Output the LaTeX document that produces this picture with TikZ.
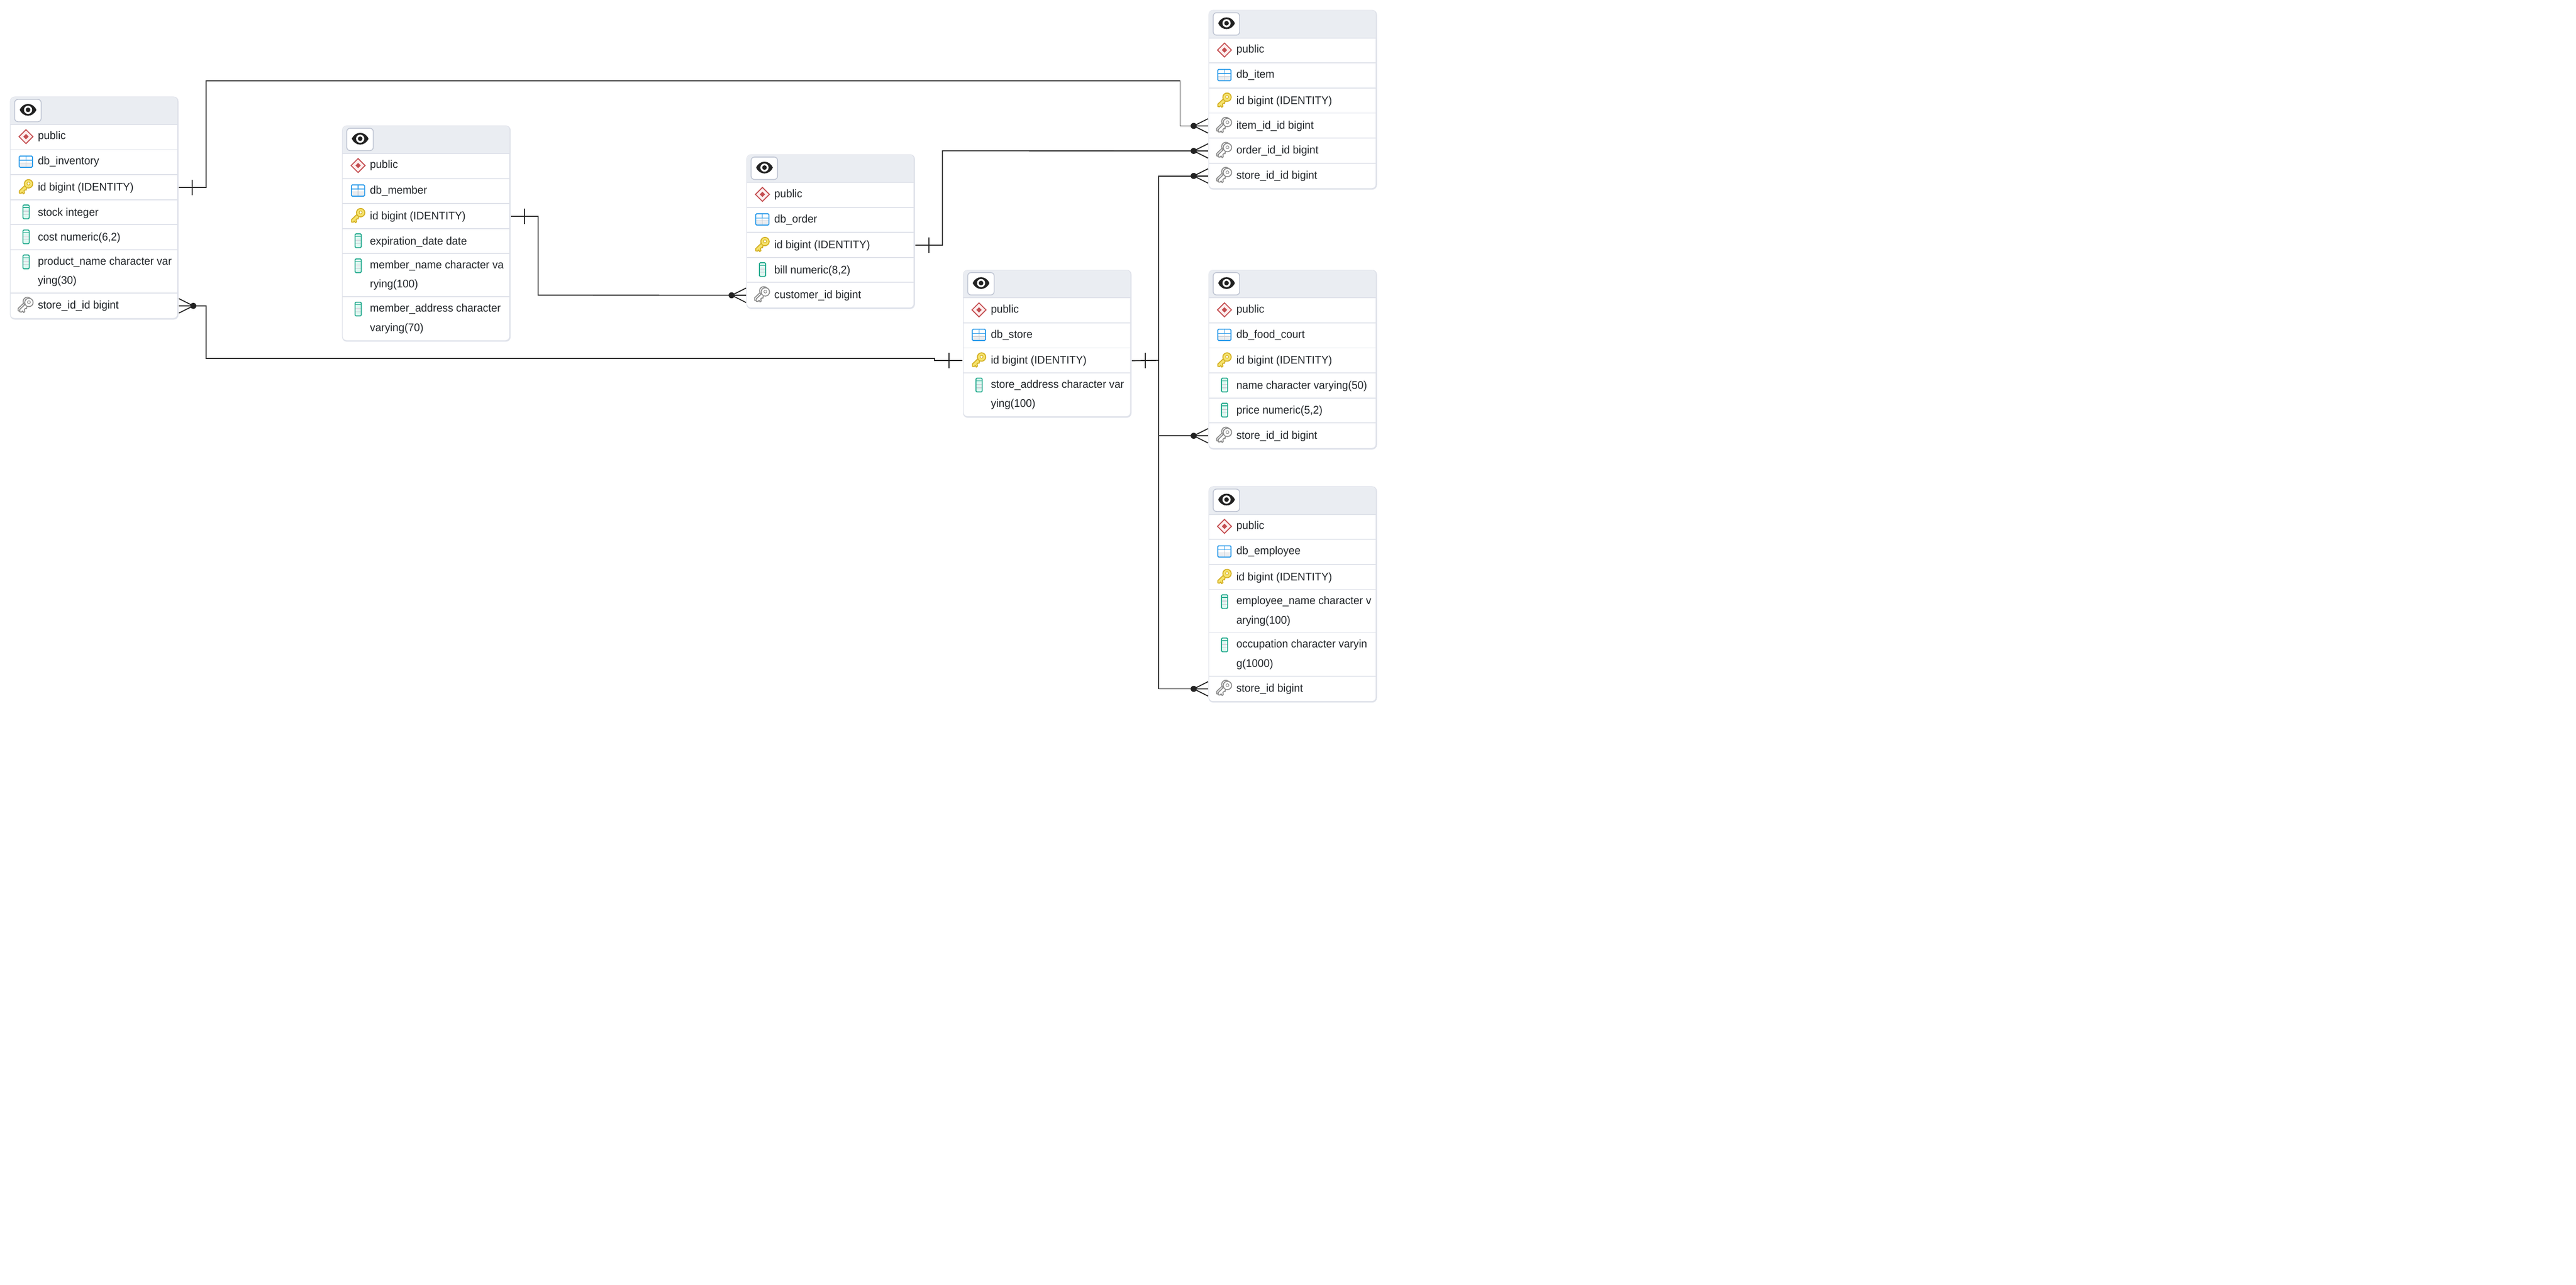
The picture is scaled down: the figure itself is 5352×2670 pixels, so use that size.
\documentclass[tikz,border=0pt]{standalone}
\usepackage{fontspec}
\setmainfont[FakeStretch=0.965]{Liberation Sans}
\usetikzlibrary{calc}
\definecolor{framec}{HTML}{DFE2EA}
\definecolor{hdrc}{HTML}{EAEDF2}
\definecolor{btnc}{HTML}{BEC4D2}
\definecolor{inkc}{HTML}{222222}
\definecolor{txtc}{HTML}{212529}
\definecolor{redc}{HTML}{C44D50}
\definecolor{redl}{HTML}{FDEEEE}
\definecolor{bluec}{HTML}{2B9BEA}
\definecolor{greyl}{HTML}{ECEDF0}
\definecolor{greyg}{HTML}{C8CDD4}
\definecolor{tealc}{HTML}{26AB8F}
\definecolor{teall}{HTML}{DFF8F1}
\definecolor{yelf}{HTML}{F6E36C}
\definecolor{yels}{HTML}{D4B024}
\definecolor{keyg}{HTML}{8C8C8C}
\tikzset{
  frame/.style={anchor=north west,fill=framec,draw=none,rounded corners=.1cm,minimum width=3.5cm,inner sep=0pt},
  rowbox/.style={anchor=north west,draw=none,fill=none,minimum width=3.5cm,inner sep=0pt},
  sepline/.style={draw=framec,line width=.02cm},
  ertext/.style={anchor=base west,inner sep=0pt,text=txtc,font=\fontsize{6.55pt}{11.38pt}\selectfont},
  conn/.style={draw=inkc,line width=.02cm},
  iconline/.style={line width=.02cm},
}
% ---- icons, drawn relative to the top of a row
\newcommand\icdiamond[1]{\begin{scope}[shift={(0,#1)}]
  \filldraw[draw=redc,fill=redl,iconline] (19.5,25)--(34,10.5)--(48.5,25)--(34,39.5)--cycle;
  \fill[redc] (28.5,25)--(34,19.5)--(39.5,25)--(34,30.5)--cycle;
\end{scope}}
\newcommand\ictable[1]{\begin{scope}[shift={(0,#1)}]
  \fill[white] (20,13.3) rectangle (47.5,28);
  \fill[greyl] (20,28) rectangle (47.5,36.7);
  \draw[greyg,line width=.014cm] (20,28) -- (47.5,28) (34,22) -- (34,36.7);
  \draw[bluec,line width=.014cm] (20,22) -- (47.5,22) (34,13.3) -- (34,22);
  \draw[bluec,iconline,rounded corners=.02cm] (20,13.3) rectangle (47.5,36.7);
\end{scope}}
\newcommand\iccol[1]{\begin{scope}[shift={(0,#1)}]
  \fill[teall] (27.7,11) rectangle (40.7,39.6);
  \fill[greyl] (27.7,23) rectangle (40.7,27);
  \draw[greyg,line width=.014cm] (27.7,24) -- (40.7,24) (27.7,31) -- (40.7,31);
  \draw[tealc,line width=.014cm] (27.7,16.5) -- (40.7,16.5);
  \draw[tealc,iconline,rounded corners=.02cm] (27.7,11) rectangle (40.7,39.6);
\end{scope}}
\newcommand\keyblade{(-6,2) -- (-19,14.5) -- (-19,19.5) -- (-15.5,20) -- (-13,17.5) -- (-11,21) -- (-8.5,19) -- (-9.5,14.5) -- (-7,12.5) -- (-5,13) -- (-4.5,9.5) -- (-2,7) -- cycle}
\newcommand\keydraw[2]{%
  \filldraw[draw=#2,fill=#1,iconline,line join=round] \keyblade;
  \filldraw[draw=#2,fill=#1,iconline] (0,0) circle (8.7);
  \fill[#1] (-6.5,4) -- (-3,7.5) -- (1,5) -- (-4,1) -- cycle;
  \filldraw[draw=#2,fill=white,line width=.012cm] (0,-.5) circle (3.1);
}
\newcommand\ickey[1]{\begin{scope}[shift={(39.3,#1+19)}]
  \keydraw{yelf}{yels}
\end{scope}}
\newcommand\icfk[1]{\begin{scope}[shift={(39.3,#1+19)}]
  \begin{scope}[shift={(-2.5,-1.5)}]\keydraw{white}{keyg}\end{scope}
  \begin{scope}[shift={(.8,.6)}]\keydraw{white}{keyg}\end{scope}
\end{scope}}
% ---- table frame: name, total height
\newcommand\erframe[2]{%
  \node[frame,minimum height={(#2+2.5)*0.01cm}] (#1) at (0,0) {};
  \fill[white,rounded corners=.08cm] (2,2) rectangle (348,#2);
  \begin{scope}
    \clip (0,0) rectangle (350,59);
    \fill[hdrc,rounded corners=.08cm] (2,2) rectangle (348,90);
  \end{scope}
  \filldraw[draw=btnc,fill=white,line width=.017cm,rounded corners=.07cm] (10.5,6.5) rectangle (65.5,53);
  \fill[inkc] (21,28.3) .. controls (28,12) and (48.5,12) .. (55.6,28.3) .. controls (48.5,44.6) and (28,44.6) .. (21,28.3) -- cycle;
  \fill[white] (38.3,28.3) circle (8.5);
  \fill[inkc] (38.3,28.3) circle (4.8);
}
% ---- row: name, top, height, icon, baseline offset, text
\newcommand\erow[6]{%
  \node[rowbox,minimum height={#3*0.01cm}] (#1) at (0,#2) {};
  \draw[sepline] (1,#2) -- (349,#2);
  \csname ic#4\endcsname{#2}
  \node[ertext] (#1t) at (58,#2+#5) {#6};
}
\newcommand\wrapped[2]{\vtop{\hbox{#1}\hbox{#2}}}
% ---- connector ends
\newcommand\crow[1]{% many end, on the west side of a row
  \coordinate (#1d) at ($(#1.west)+(-30,0)$);
  \draw[conn] (#1d) -- ($(#1.west)+(0,-15)$) (#1d) -- ($(#1.west)+(0,15)$) (#1d) -- (#1.west);
  \fill[inkc] (#1d) circle (6.3);
}
\newcommand\crowe[1]{% many end, on the east side of a row
  \coordinate (#1d) at ($(#1.east)+(30,0)$);
  \draw[conn] (#1d) -- ($(#1.east)+(0,-15)$) (#1d) -- ($(#1.east)+(0,15)$) (#1d) -- (#1.east);
  \fill[inkc] (#1d) circle (6.3);
}
\newcommand\tick[3]{\draw[conn] ($(#1.#2)+(#3,-16)$) -- ($(#1.#2)+(#3,16)$);}
\begin{document}
\begin{tikzpicture}[x=.01cm,y=-.01cm]
\useasboundingbox (0,0) rectangle (5352,2670);
\fill[white] (0,0) rectangle (5352,2670);
% db_inventory
\begin{scope}[shift={(20,200)}]
  \erframe{inv}{461}
  \erow{invs}{59}{52}{diamond}{31}{public}
  \erow{invt}{111}{52}{table}{31.5}{db\_inventory}
  \erow{invid}{163}{52}{key}{33.5}{id bigint (IDENTITY)}
  \erow{invc1}{215}{52}{col}{33.5}{stock integer}
  \erow{invc2}{267}{52}{col}{33.5}{cost numeric(6,2)}
  \erow{invc3}{319}{90}{col}{31.3}{\wrapped{product\_name character var}{ying(30)}}
  \erow{invsid}{409}{52}{fk}{33}{store\_id\_id bigint}
\end{scope}
% db_member
\begin{scope}[shift={(710,260)}]
  \erframe{mem}{447}
  \erow{mems}{59}{52}{diamond}{31}{public}
  \erow{memt}{111}{52}{table}{31.5}{db\_member}
  \erow{memid}{163}{52}{key}{33.5}{id bigint (IDENTITY)}
  \erow{memc1}{215}{52}{col}{33.5}{expiration\_date date}
  \erow{memc2}{267}{90}{col}{31.3}{\wrapped{member\_name character va}{rying(100)}}
  \erow{memc3}{357}{90}{col}{31.3}{\wrapped{member\_address character}{varying(70)}}
\end{scope}
% db_order
\begin{scope}[shift={(1550,320)}]
  \erframe{ord}{319}
  \erow{ords}{59}{52}{diamond}{31}{public}
  \erow{ordt}{111}{52}{table}{31.5}{db\_order}
  \erow{ordid}{163}{52}{key}{33.5}{id bigint (IDENTITY)}
  \erow{ordc1}{215}{52}{col}{33.5}{bill numeric(8,2)}
  \erow{ordcid}{267}{52}{fk}{33}{customer\_id bigint}
\end{scope}
% db_store
\begin{scope}[shift={(2000,560)}]
  \erframe{sto}{305}
  \erow{stos}{59}{52}{diamond}{31}{public}
  \erow{stot}{111}{52}{table}{31.5}{db\_store}
  \erow{stoid}{163}{52}{key}{33.5}{id bigint (IDENTITY)}
  \erow{stoc1}{215}{90}{col}{31.3}{\wrapped{store\_address character var}{ying(100)}}
\end{scope}
% db_item
\begin{scope}[shift={(2510,20)}]
  \erframe{itm}{371}
  \erow{itms}{59}{52}{diamond}{31}{public}
  \erow{itmt}{111}{52}{table}{31.5}{db\_item}
  \erow{itmid}{163}{52}{key}{33.5}{id bigint (IDENTITY)}
  \erow{itmiid}{215}{52}{fk}{33}{item\_id\_id bigint}
  \erow{itmoid}{267}{52}{fk}{33}{order\_id\_id bigint}
  \erow{itmsid}{319}{52}{fk}{33}{store\_id\_id bigint}
\end{scope}
% db_food_court
\begin{scope}[shift={(2510,560)}]
  \erframe{foo}{371}
  \erow{foos}{59}{52}{diamond}{31}{public}
  \erow{foot}{111}{52}{table}{31.5}{db\_food\_court}
  \erow{fooid}{163}{52}{key}{33.5}{id bigint (IDENTITY)}
  \erow{fooc1}{215}{52}{col}{33.5}{name character varying(50)}
  \erow{fooc2}{267}{52}{col}{33.5}{price numeric(5,2)}
  \erow{foosid}{319}{52}{fk}{33}{store\_id\_id bigint}
\end{scope}
% db_employee
\begin{scope}[shift={(2510,1010)}]
  \erframe{emp}{447}
  \erow{emps}{59}{52}{diamond}{31}{public}
  \erow{empt}{111}{52}{table}{31.5}{db\_employee}
  \erow{empid}{163}{52}{key}{33.5}{id bigint (IDENTITY)}
  \erow{empc1}{215}{90}{col}{31.3}{\wrapped{employee\_name character v}{arying(100)}}
  \erow{empc2}{305}{90}{col}{31.3}{\wrapped{occupation character varyin}{g(1000)}}
  \erow{empsid}{395}{52}{fk}{33}{store\_id bigint}
\end{scope}
% connectors
\coordinate (c1a) at (427.7,168.3);
\coordinate (c1b) at (2451.7,168.3);
\draw[conn] (invid.east) -| (c1a) -- (c1b) |- (itmiid.west);
\tick{invid}{east}{28}
\crow{itmiid}
\coordinate (c2a) at (1958,313.3);
\draw[conn] (ordid.east) -| (c2a) -- (itmoid.west);
\tick{ordid}{east}{28}
\crow{itmoid}
\coordinate (c3a) at (1118,613.3);
\draw[conn] (memid.east) -| (c3a) -- (ordcid.west);
\tick{memid}{east}{28}
\crow{ordcid}
\coordinate (c4a) at (427.7,745);
\coordinate (c4b) at (1941.7,745);
\draw[conn] (invsid.east) -| (c4a) -- (c4b) |- (stoid.west);
\tick{stoid}{west}{-28.3}
\crowe{invsid}
\coordinate (bus) at (2407.7,749);
\draw[conn] (stoid.east) -- (bus);
\draw[conn] (itmsid.west) -| (bus);
\draw[conn] (foosid.west) -| (bus);
\draw[conn] (empsid.west) -| (bus);
\tick{stoid}{east}{28}
\crow{itmsid}
\crow{foosid}
\crow{empsid}
\end{tikzpicture}
\end{document}
